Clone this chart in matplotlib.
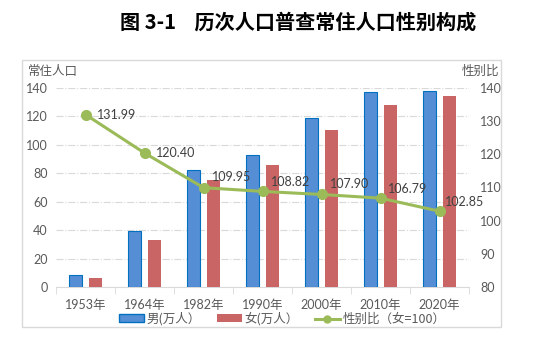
import numpy as np
import matplotlib.pyplot as plt
from matplotlib.patches import Rectangle
from matplotlib.lines import Line2D

plt.rcParams['font.family'] = ['Lato', 'Noto Sans CJK SC', 'DejaVu Sans']

# data
years = ['1953年', '1964年', '1982年', '1990年', '2000年', '2010年', '2020年']
male = [8.5, 39.5, 82.5, 93.0, 119.0, 137.0, 138.0]
female = [6.4, 32.8, 75.0, 85.5, 110.3, 128.3, 134.2]
ratio = [131.99, 120.40, 109.95, 108.82, 107.90, 106.79, 102.85]

# label offsets in pixels (dx, dy)
label_off = [(11, 0), (11, 0), (8, 11), (8, 9), (8, 10), (7, 9), (5, 9)]

blue = '#558ED5'
blue_edge = '#0070C0'
red = '#C96565'
green = '#9BBB59'
txt = '#595959'
grid = '#D9D9D9'

fig = plt.figure(figsize=(5.54, 3.59), dpi=100)
fig.patches.append(Rectangle((22 / 554, 1 - 327 / 359), 479 / 554, 267 / 359,
                             transform=fig.transFigure, fill=False,
                             edgecolor=grid, linewidth=1))

fig.text(298 / 554, 1 - 22 / 359, '图 3-1    历次人口普查常住人口性别构成',
         ha='center', va='center', fontsize=14.5, fontweight='bold',
         color='black', family=['Noto Sans CJK SC'])

ax = fig.add_axes([56 / 554, 1 - 287 / 359, 413 / 554, 199 / 359])
ax2 = ax.twinx()

x = np.arange(len(years))
w = 0.22
ax.bar(x - 0.17, male, w, color=blue, edgecolor=blue_edge, linewidth=0.8,
       label='男(万人）', zorder=3)
ax.bar(x + 0.17, female, w, color=red, label='女(万人）', zorder=3)

ax.set_xlim(-0.5, len(years) - 0.5)
ax.set_ylim(0, 140)
ax.set_yticks(range(0, 141, 20))
ax.set_xticks(x)
ax.set_xticklabels(years)
ax.set_xticks(np.arange(-0.5, len(years), 1), minor=True)
ax.tick_params(axis='x', which='major', length=0, pad=9, labelsize=9, colors=txt)
ax.tick_params(axis='x', which='minor', length=5, color=grid, direction='out')
ax.tick_params(axis='y', length=0, labelsize=9, colors=txt, pad=6)
for s in ['top', 'right', 'left']:
    ax.spines[s].set_visible(False)
ax.spines['bottom'].set_color(grid)
for v in range(20, 141, 20):
    ax.axhline(v, color=grid, linewidth=0.8, linestyle='-.', zorder=1)

ax2.plot(x, ratio, color=green, linewidth=2.2, marker='o', markersize=7,
         label='性别比（女=100）', zorder=4)
for xi, r, (dx, dy) in zip(x, ratio, label_off):
    ax2.annotate(f'{r:.2f}', (xi, r), xytext=(dx, dy), textcoords='offset pixels',
                 ha='left', va='center', fontsize=9, color='#404040')
ax2.set_ylim(80, 140)
ax2.set_yticks(range(80, 141, 10))
ax2.tick_params(axis='y', length=0, labelsize=9, colors=txt, pad=8)
for s in ['top', 'right', 'left', 'bottom']:
    ax2.spines[s].set_visible(False)

fig.text(28 / 554, 1 - 71 / 359, '常住人口', ha='left', va='center',
         fontsize=9, color=txt, family=['Noto Sans CJK SC'])
fig.text(499 / 554, 1 - 71 / 359, '性别比', ha='right', va='center',
         fontsize=9, color=txt, family=['Noto Sans CJK SC'])

handles = [Rectangle((0, 0), 1, 1, facecolor=blue, edgecolor=blue_edge),
           Rectangle((0, 0), 1, 1, facecolor=red),
           Line2D([], [], color=green, linewidth=2.2, marker='o', markersize=5)]
labels = ['男(万人）', '女(万人）', '性别比（女=100）']
fig.legend(handles, labels, loc='center', bbox_to_anchor=(282 / 554, 1 - 319 / 359),
           ncol=3, frameon=False, labelcolor=txt, borderpad=0,
           handlelength=2.0, handleheight=0.6, handletextpad=0.2, columnspacing=1.3,
           prop={'family': ['Noto Sans CJK SC'], 'size': 9})

fig.savefig('out.png', dpi=100)
